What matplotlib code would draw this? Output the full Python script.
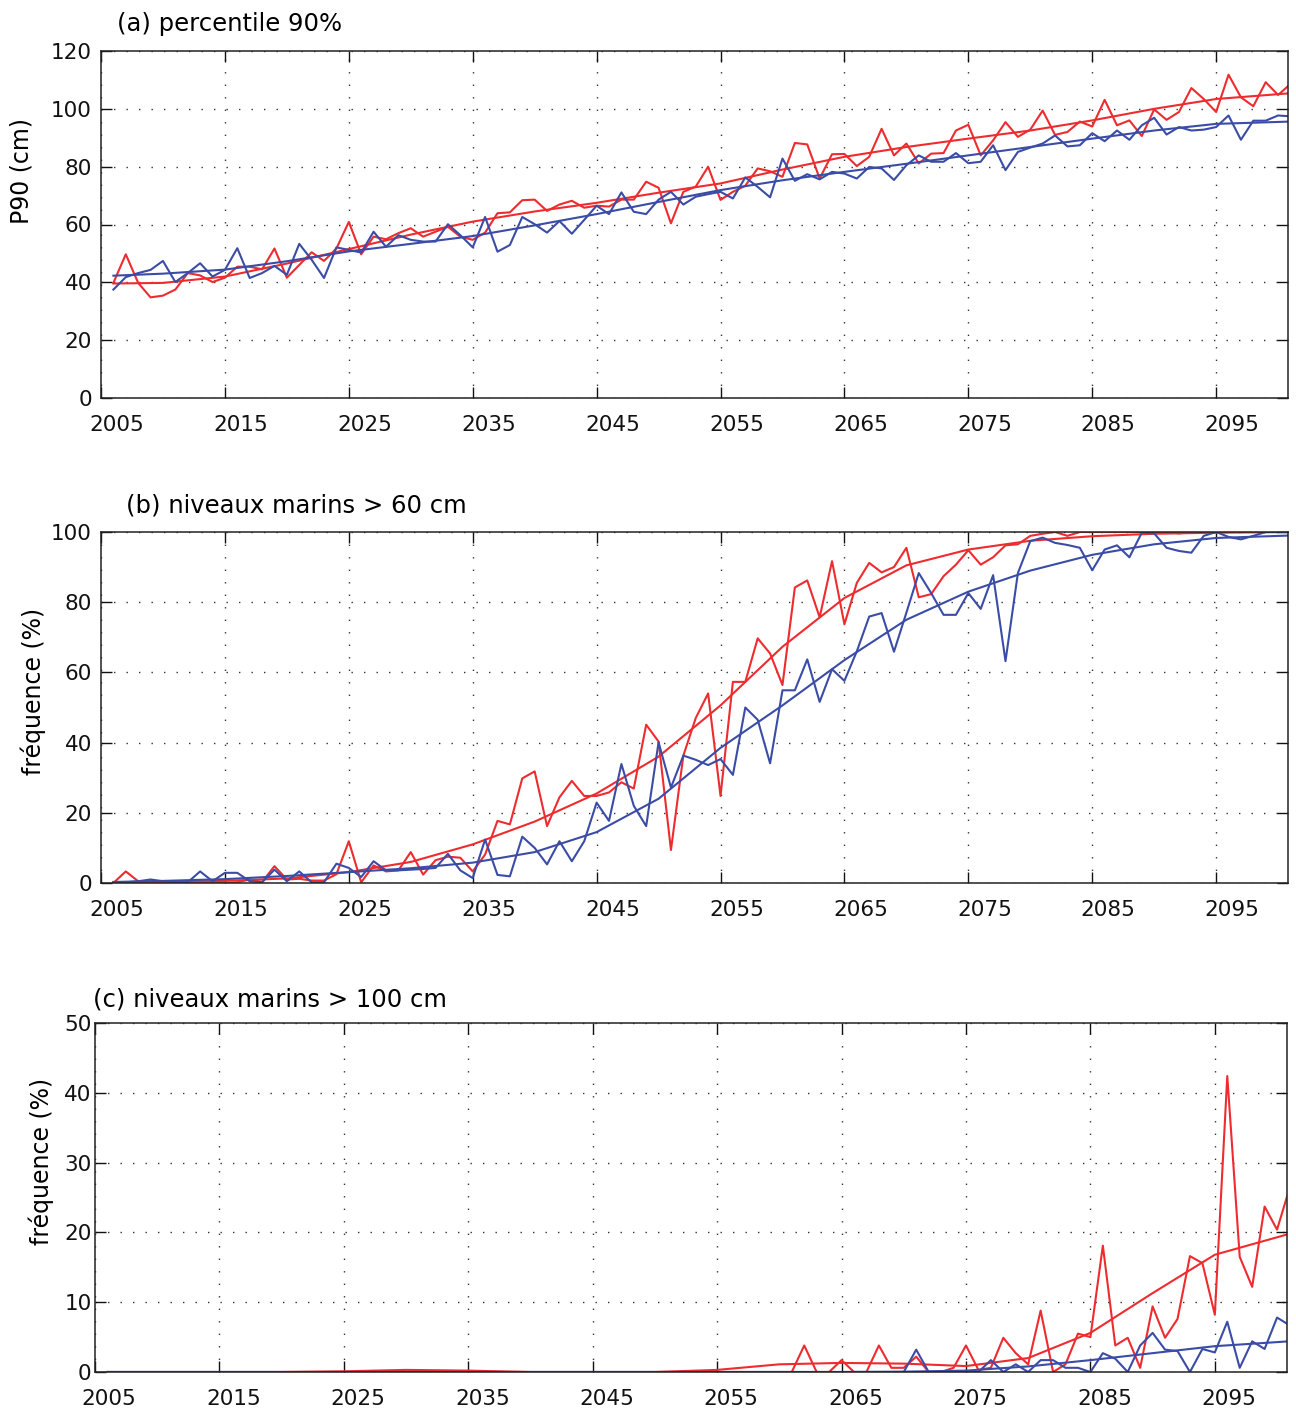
import matplotlib
matplotlib.use("Agg")
import matplotlib.pyplot as plt
from matplotlib.transforms import ScaledTranslation

plt.rcParams["font.family"] = ["DejaVu Sans"]

# annual values, 2006 .. 2101
years = list(range(2006, 2102))

p90_red = [
    39.8, 49.7, 39.8, 34.8, 35.4, 37.5, 43.2, 42.4, 40.1, 41.6,
    45.4, 45.4, 44.5, 51.7, 41.6, 46.0, 50.4, 47.4, 51.7, 60.9,
    49.7, 55.8, 54.9, 57.0, 58.7, 55.8, 57.5, 59.2, 55.8, 54.7,
    57.2, 63.9, 64.2, 68.4, 68.6, 64.7, 66.9, 68.2, 65.8, 66.5,
    66.2, 68.6, 68.6, 74.8, 72.7, 60.4, 71.3, 73.1, 80.0, 68.5,
    71.3, 73.4, 79.4, 78.4, 76.5, 88.2, 87.7, 75.9, 84.3, 84.4,
    80.2, 83.4, 93.1, 83.9, 88.0, 81.1, 84.5, 84.7, 92.5, 94.5,
    83.9, 89.1, 95.4, 90.3, 92.8, 99.4, 91.0, 92.0, 95.6, 93.9,
    103.1, 94.3, 96.0, 90.6, 99.8, 96.2, 98.9, 107.2, 103.4, 98.9,
    111.8, 104.0, 100.9, 109.2, 104.8, 108.6,
]
p90_blue = [
    37.5, 41.8, 43.2, 44.3, 47.4, 40.1, 43.2, 46.6, 42.0, 44.3,
    51.8, 41.5, 43.2, 45.7, 42.6, 53.3, 47.8, 41.5, 52.1, 51.2,
    50.3, 57.5, 52.3, 56.3, 54.7, 54.1, 54.1, 60.1, 56.3, 52.1,
    62.6, 50.6, 52.9, 62.6, 60.1, 57.2, 61.2, 56.8, 61.6, 66.5,
    63.6, 71.1, 64.4, 63.6, 68.6, 71.3, 66.9, 69.6, 70.5, 71.3,
    69.0, 76.3, 73.0, 69.4, 82.8, 75.1, 77.4, 75.6, 78.2, 77.6,
    75.9, 79.9, 79.4, 75.4, 80.5, 83.9, 81.7, 81.7, 84.7, 81.2,
    81.7, 87.4, 78.8, 85.1, 86.6, 88.0, 90.8, 87.0, 87.4, 91.6,
    88.8, 92.5, 89.3, 94.3, 96.9, 91.1, 93.7, 92.5, 92.8, 93.7,
    97.7, 89.3, 95.9, 95.9, 97.7, 97.4,
]

f60_red = [
    0.0, 3.3, 0.5, 0.3, 0.0, 0.0, 0.2, 0.2, 0.0, 0.0,
    0.2, 1.0, 0.3, 4.8, 1.0, 1.2, 0.7, 0.7, 2.5, 11.9,
    0.2, 5.0, 3.3, 3.6, 8.8, 2.4, 6.5, 7.5, 7.2, 3.3,
    8.1, 17.7, 16.7, 29.8, 31.8, 16.2, 24.4, 29.1, 24.8, 24.8,
    25.8, 28.7, 26.9, 45.1, 40.3, 9.4, 36.3, 47.0, 54.0, 24.8,
    57.3, 57.3, 69.7, 65.4, 56.4, 84.2, 86.2, 75.7, 91.7, 73.7,
    85.5, 91.2, 88.5, 90.0, 95.5, 81.4, 82.3, 87.4, 90.7, 94.8,
    90.7, 92.8, 96.2, 96.5, 98.9, 99.5, 100.0, 98.9, 100.0, 100.0,
    100.0, 100.0, 100.0, 100.0, 100.0, 100.0, 99.6, 100.0, 100.0, 100.0,
    100.0, 100.0, 100.0, 100.0, 100.0, 100.0,
]
f60_blue = [
    0.2, 0.2, 0.5, 1.0, 0.5, 0.2, 0.2, 3.3, 0.5, 2.9,
    2.9, 0.5, 0.2, 3.8, 0.5, 3.3, 0.2, 0.2, 5.5, 4.3,
    1.7, 6.2, 3.6, 3.6, 3.8, 4.0, 4.3, 8.3, 3.6, 1.4,
    12.4, 2.3, 1.9, 13.2, 10.0, 5.3, 11.9, 6.2, 11.9, 22.9,
    17.7, 33.9, 22.0, 16.2, 40.1, 27.2, 36.3, 35.1, 33.6, 35.3,
    30.8, 50.0, 46.5, 34.1, 54.9, 54.9, 63.7, 51.6, 60.9, 57.6,
    66.0, 75.9, 76.9, 65.9, 77.0, 88.3, 82.6, 76.4, 76.4, 82.6,
    78.1, 87.7, 63.2, 88.3, 97.4, 98.4, 96.9, 96.3, 95.5, 89.1,
    95.0, 96.2, 92.8, 99.8, 99.6, 95.5, 94.6, 94.1, 98.9, 100.0,
    98.6, 97.9, 98.9, 100.0, 100.0, 100.0,
]

f100_red = [0.0] * 55 + [
    0.0, 3.8, 0.0, 0.0, 1.7, 0.0, 0.0, 3.8, 0.6, 0.6,
    2.2, 0.0, 0.0, 0.6, 3.8, 0.3, 0.6, 4.9, 2.7, 1.1,
    8.8, 0.0, 1.1, 5.5, 5.0, 18.1, 3.8, 4.9, 0.6, 9.4,
    4.9, 7.6, 16.6, 15.6, 8.2, 42.4, 16.5, 12.2, 23.7, 20.4,
    26.3,
]
f100_blue = [0.0] * 64 + [
    0.0, 3.2, 0.0, 0.0, 0.0, 0.0, 0.0, 1.7, 0.0, 1.1,
    0.0, 1.7, 1.7, 0.6, 0.6, 0.0, 2.7, 1.9, 0.0, 3.8,
    5.6, 3.2, 3.0, 0.0, 3.3, 2.8, 7.2, 0.6, 4.4, 3.3,
    7.8, 6.7,
]

# smoothed trends
fit_years = [2006, 2010, 2015, 2020, 2025, 2030, 2035, 2040, 2045, 2050,
             2055, 2060, 2065, 2070, 2075, 2080, 2085, 2090, 2095, 2101]
p90_red_fit = [39.6, 39.8, 42.0, 46.5, 51.5, 56.5, 61.0, 64.5, 67.5, 71.0,
               74.2, 79.0, 83.4, 86.8, 89.7, 92.5, 96.0, 100.0, 103.4, 105.4]
p90_blue_fit = [42.3, 43.0, 44.4, 47.3, 50.7, 53.3, 56.0, 59.7, 63.6, 67.8,
                71.9, 75.3, 78.2, 81.0, 83.9, 86.8, 89.7, 92.5, 94.8, 95.6]
f60_red_fit = [0.2, 0.3, 0.6, 1.3, 3.1, 6.0, 11.0, 17.5, 25.5, 36.0,
               50.6, 67.3, 81.2, 90.5, 95.0, 97.5, 98.8, 99.5, 99.8, 100.0]
f60_blue_fit = [0.3, 0.6, 1.1, 2.0, 3.1, 4.2, 5.8, 8.8, 14.5, 24.0,
                38.5, 50.6, 63.5, 75.0, 83.0, 89.0, 93.5, 96.5, 98.3, 99.0]
f100_red_fit = [0.0, 0.0, 0.0, 0.0, 0.1, 0.3, 0.2, 0.0, 0.0, 0.0,
                0.3, 1.1, 1.3, 1.2, 0.85, 2.0, 5.6, 11.3, 16.8, 19.8]
f100_blue_fit = [0.0, 0.0, 0.0, 0.0, 0.0, 0.0, 0.0, 0.0, 0.0, 0.0,
                 0.0, 0.0, 0.0, 0.05, 0.2, 0.8, 1.7, 2.7, 3.7, 4.4]

xticks = [2005, 2015, 2025, 2035, 2045, 2055, 2065, 2075, 2085, 2095]

RED = "#ee2b2e"
BLUE = "#3b4ca6"
W, H = 1296, 1414

fig = plt.figure(figsize=(W / 100, H / 100), dpi=100)


def px_axes(left, top, right, bottom):
    return fig.add_axes([left / W, 1 - bottom / H, (right - left) / W, (bottom - top) / H])


def style(ax, ylim, yticks, ypad, xshift):
    ax.set_xlim(2005, 2100.8)
    ax.set_ylim(*ylim)
    ax.set_xticks(xticks)
    ax.set_yticks(yticks)
    ax.tick_params(direction="in", length=8, width=1, top=True, right=True,
                   labelsize=15.5, colors="#111111")
    ax.tick_params(axis="x", pad=12.5)
    ax.tick_params(axis="y", pad=ypad)
    ax.grid(True, linestyle=(0, (1, 8)), color="#333333", linewidth=1)
    for sp in ax.spines.values():
        sp.set_linewidth(1.1)
        sp.set_color("#222222")
    shift = ScaledTranslation(xshift / 100, 0, fig.dpi_scale_trans)
    for lab in ax.get_xticklabels():
        lab.set_transform(lab.get_transform() + shift)


def draw(ax, red, blue, red_fit, blue_fit):
    ax.plot(years, red, color=RED, lw=1.5)
    ax.plot(fit_years, red_fit, color=RED, lw=1.5)
    ax.plot(years, blue, color=BLUE, lw=1.5)
    ax.plot(fit_years, blue_fit, color=BLUE, lw=1.5)


ax_a = px_axes(101, 51, 1288, 398)
draw(ax_a, p90_red, p90_blue, p90_red_fit, p90_blue_fit)
style(ax_a, (0, 120), range(0, 121, 20), 6.5, 16)

ax_b = px_axes(101, 532, 1288, 883)
draw(ax_b, f60_red, f60_blue, f60_red_fit, f60_blue_fit)
style(ax_b, (0, 100), range(0, 101, 20), 6.5, 16)

ax_c = px_axes(95, 1023, 1287, 1372)
draw(ax_c, f100_red, f100_blue, f100_red_fit, f100_blue_fit)
style(ax_c, (0, 50), range(0, 51, 10), 2.5, 14)

fig.text(117 / W, 1 - 31 / H, "(a) percentile 90%", fontsize=17.5, va="baseline", ha="left")
fig.text(126 / W, 1 - 512 / H, "(b) niveaux marins > 60 cm", fontsize=17.5, va="baseline", ha="left")
fig.text(93 / W, 1 - 1006 / H, "(c) niveaux marins > 100 cm", fontsize=17.5, va="baseline", ha="left")

fig.text(22 / W, 1 - 171 / H, "P90 (cm)", fontsize=17, rotation=90, va="center", ha="center")
fig.text(33 / W, 1 - 691 / H, "fréquence (%)", fontsize=17, rotation=90, va="center", ha="center")
fig.text(41 / W, 1 - 1161 / H, "fréquence (%)", fontsize=17, rotation=90, va="center", ha="center")

fig.savefig("out.png", dpi=100)
